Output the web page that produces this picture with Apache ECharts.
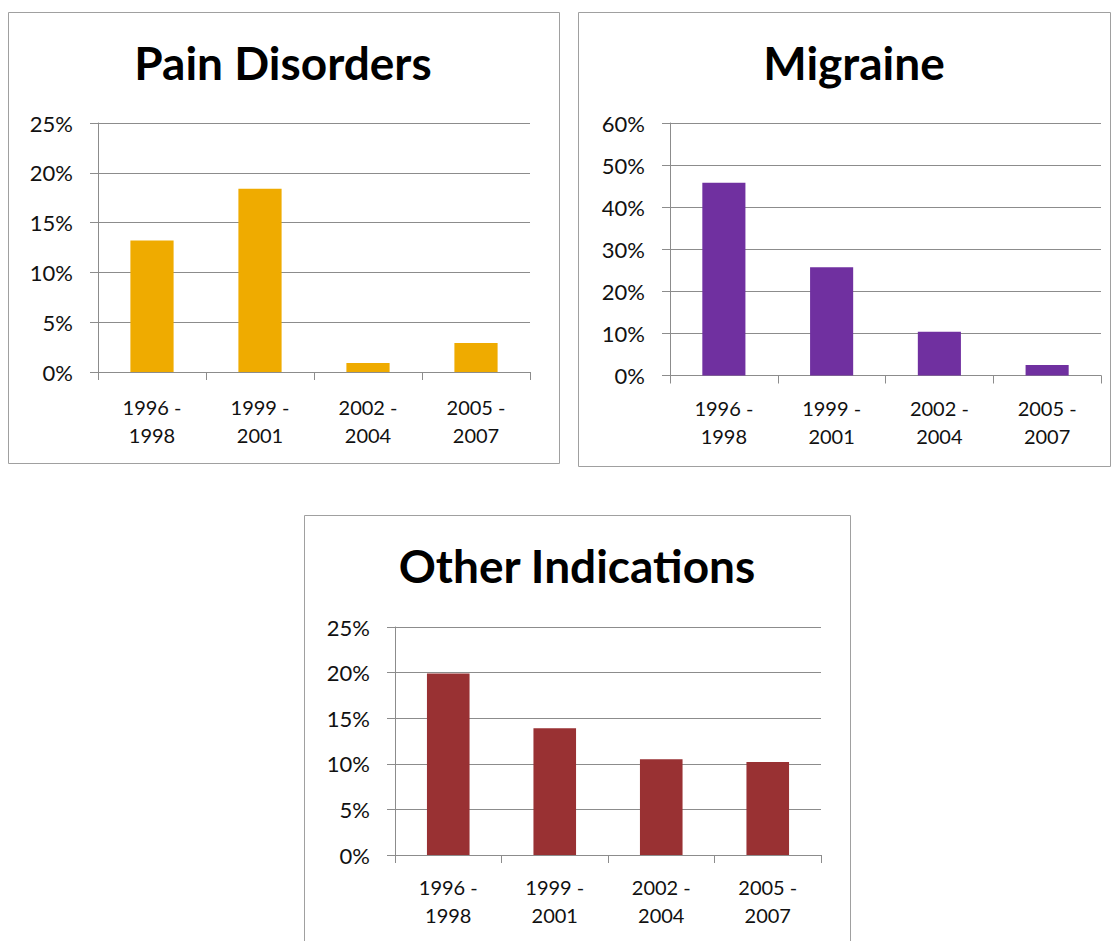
<!DOCTYPE html>
<html>
<head>
<meta charset="utf-8">
<title>Share by indication</title>
<script src="https://cdn.jsdelivr.net/npm/echarts@6/dist/echarts.min.js"></script>
<style>
  html, body { margin: 0; padding: 0; background: #ffffff; }
  #chart { width: 1118px; height: 941px; }
</style>
</head>
<body>
<div id="chart"></div>
<script>
// Periods shown on every category axis
const periods = ['1996 -\n1998', '1999 -\n2001', '2002 -\n2004', '2005 -\n2007'];

// Share per period (%)
const painDisorders = [13.2, 18.4, 0.9, 2.9];
const migraine = [45.8, 25.7, 10.4, 2.5];
const otherIndications = [19.9, 13.9, 10.5, 10.2];

// Value-axis ranges: [max, step]
const painAxis = [25, 5];
const migraineAxis = [60, 10];
const otherAxis = [25, 5];

const panelTitles = ['Pain Disorders', 'Migraine', 'Other Indications'];

const FONT = 'Lato, "Open Sans", sans-serif';
const GRID_COLOR = '#8c8c8c';
const FRAME_COLOR = '#a0a0a0';

const grids = [
  { left: 98, top: 123, width: 432, height: 249 },
  { left: 670, top: 123, width: 431, height: 252.5 },
  { left: 395, top: 627, width: 426, height: 228 }
];
const labelMargins = [21, 18, 18];
const axes = [painAxis, migraineAxis, otherAxis];
const values = [painDisorders, migraine, otherIndications];
const colors = ['#efab00', '#7030a0', '#993133'];

const xAxis = grids.map((g, i) => ({
  type: 'category',
  gridIndex: i,
  data: periods,
  axisLine: { show: true, lineStyle: { color: GRID_COLOR, width: 1 } },
  axisTick: { show: true, length: 8, alignWithLabel: false, lineStyle: { color: GRID_COLOR } },
  axisLabel: {
    color: '#111', fontFamily: FONT, fontSize: 20, lineHeight: 28,
    margin: labelMargins[i], interval: 0
  }
}));

const yAxis = grids.map((g, i) => ({
  type: 'value',
  gridIndex: i,
  min: 0,
  max: axes[i][0],
  interval: axes[i][1],
  axisLine: { show: true, lineStyle: { color: GRID_COLOR, width: 1 } },
  axisTick: { show: true, length: 8, lineStyle: { color: GRID_COLOR } },
  splitLine: { show: true, lineStyle: { color: GRID_COLOR, width: 1 } },
  axisLabel: {
    color: '#111', fontFamily: FONT, fontSize: 22, margin: 25,
    formatter: v => v + '%'
  }
}));

const series = values.map((vals, i) => ({
  type: 'bar',
  xAxisIndex: i,
  yAxisIndex: i,
  data: vals,
  barCategoryGap: '60%',
  itemStyle: { color: colors[i] },
  silent: true
}));

// Panel frames and headings
const frames = [
  { x: 8.5, y: 12.5, width: 551, height: 451 },
  { x: 578.5, y: 12.5, width: 532, height: 454 },
  { x: 304.5, y: 515.5, width: 546, height: 440 }
];
const titleAnchors = [[283, 62], [854, 62], [577, 565]];

const graphic = frames.map(f => ({
  type: 'rect',
  shape: f,
  style: { fill: 'none', stroke: FRAME_COLOR, lineWidth: 1 },
  z: -1
})).concat(panelTitles.map((t, i) => ({
  type: 'text',
  x: titleAnchors[i][0],
  y: titleAnchors[i][1],
  style: {
    text: t,
    fill: '#000',
    font: 'bold 46px ' + FONT,
    textAlign: 'center',
    textVerticalAlign: 'middle'
  }
})));

const chart = echarts.init(document.getElementById('chart'), null, { renderer: 'svg' });
chart.setOption({
  animation: false,
  grid: grids.map(g => Object.assign({ containLabel: false }, g)),
  xAxis: xAxis,
  yAxis: yAxis,
  series: series,
  graphic: graphic
});
</script>
</body>
</html>
